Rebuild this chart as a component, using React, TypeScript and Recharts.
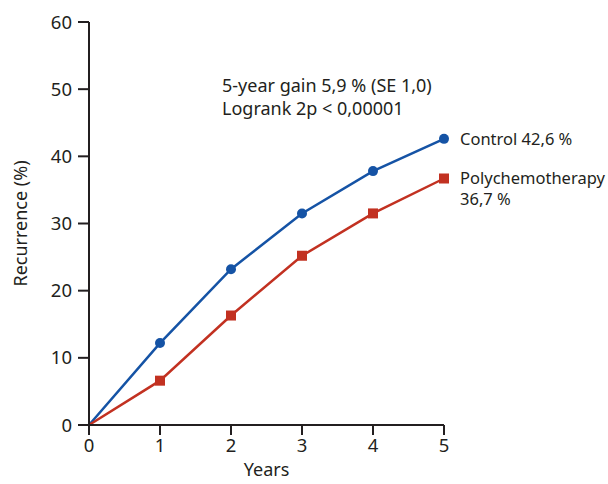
import React from 'react';
import { LineChart, Line, XAxis, YAxis, LabelList, Customized } from 'recharts';

const years = [0, 1, 2, 3, 4, 5];
const control = [0, 12.2, 23.2, 31.5, 37.8, 42.6];
const poly = [0, 6.6, 16.3, 25.2, 31.5, 36.7];
const yTicks = [0, 10, 20, 30, 40, 50, 60];
const noteLines = ['5-year gain 5,9 % (SE 1,0)', 'Logrank 2p < 0,00001'];

const data = years.map((y, i) => ({ year: y, control: control[i], poly: poly[i] }));

const FONT = '"Noto Sans", "Open Sans", sans-serif';
const BLUE = '#1553a5';
const RED = '#c23121';
const AXIS = '#231f20';

const Square = (props: any) => {
  const { cx, cy, index } = props;
  if (index === 0) return <g key={index} />;
  return <rect key={index} x={cx - 5} y={cy - 5} width={10} height={10} fill={RED} />;
};

const Dot = (props: any) => {
  const { cx, cy, index } = props;
  if (index === 0) return <g key={index} />;
  return <circle key={index} cx={cx} cy={cy} r={5} fill={BLUE} />;
};

const endLabel = (lines: string[]) => (props: any) => {
  const { x, y, index } = props;
  if (index !== years.length - 1) return null;
  return (
    <g>
      {lines.map((l, i) => (
        <text key={i} x={x + 16} y={y + 6 + i * 21} fontSize={16.5} fontFamily={FONT} fill={AXIS}>{l}</text>
      ))}
    </g>
  );
};

const Note = () => (
  <g>
    {noteLines.map((l, i) => (
      <text key={i} x={222} y={92 + i * 23} fontSize={18} fontFamily={FONT} fill={AXIS}>{l}</text>
    ))}
  </g>
);

export default function App() {
  return (
    <div style={{ position: 'absolute', left: 0, top: 0, background: '#fff' }}>
      <LineChart width={608} height={484} data={data} margin={{ top: 22, right: 164, bottom: 0, left: 0 }}>
        <XAxis
          dataKey="year"
          type="number"
          domain={[0, 5]}
          ticks={years}
          height={59}
          tickSize={10}
          tickMargin={4}
          stroke={AXIS}
          strokeWidth={2}
          tick={{ fill: AXIS, fontSize: 18.5, fontFamily: FONT }}
          label={{ value: 'Years', position: 'insideBottom', offset: 8, fill: AXIS, fontSize: 18, fontFamily: FONT }}
        />
        <YAxis
          domain={[0, 60]}
          ticks={yTicks}
          width={89}
          tickSize={11}
          tickMargin={6}
          stroke={AXIS}
          strokeWidth={2}
          tick={{ fill: AXIS, fontSize: 18.5, fontFamily: FONT }}
          label={{ value: 'Recurrence (%)', angle: -90, position: 'insideLeft', offset: 21, fill: AXIS, fontSize: 18, fontFamily: FONT, style: { textAnchor: 'middle' } }}
        />
        <Line dataKey="control" stroke={BLUE} strokeWidth={2.5} dot={<Dot />} isAnimationActive={false}>
          <LabelList dataKey="control" content={endLabel(['Control 42,6 %'])} />
        </Line>
        <Line dataKey="poly" stroke={RED} strokeWidth={2.5} dot={<Square />} isAnimationActive={false}>
          <LabelList dataKey="poly" content={endLabel(['Polychemotherapy', '36,7 %'])} />
        </Line>
        <Customized component={Note} />
      </LineChart>
    </div>
  );
}
